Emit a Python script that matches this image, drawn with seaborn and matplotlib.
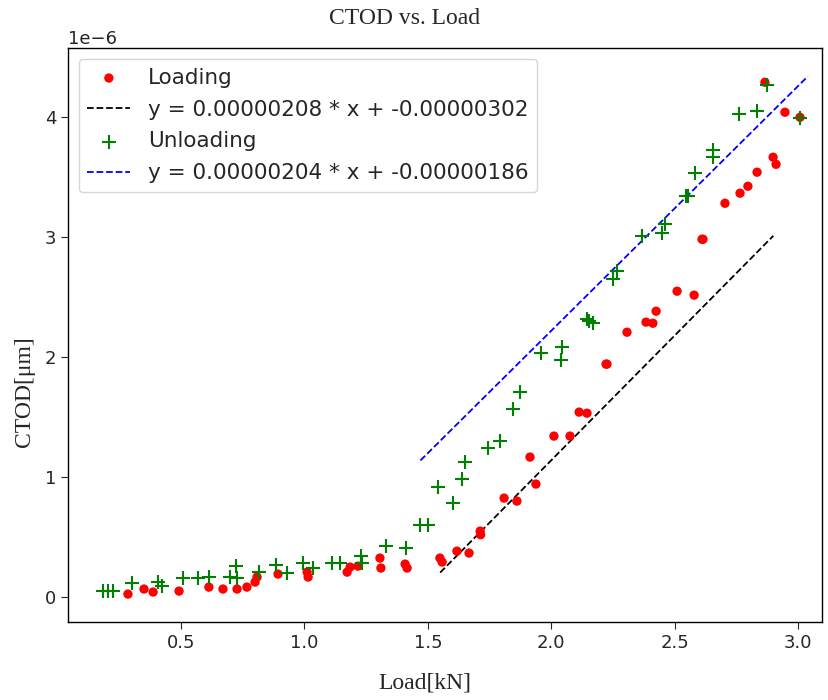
import numpy as np
import pandas as pd
import matplotlib
matplotlib.use("Agg")
import matplotlib.pyplot as plt
import seaborn as sns

# ---- data (CTOD values in units of 1e-6) ----
load_loading = [0.285, 0.350, 0.387, 0.492, 0.613, 0.670, 0.727, 0.767, 0.800, 0.808,
                0.893, 1.011, 1.015, 1.173, 1.185, 1.217, 1.306, 1.310, 1.408, 1.416,
                1.549, 1.558, 1.618, 1.667, 1.712, 1.714, 1.809, 1.861, 1.914, 1.938,
                2.011, 2.076, 2.113, 2.145, 2.222, 2.226, 2.307, 2.384, 2.412, 2.425,
                2.510, 2.579, 2.611, 2.615, 2.704, 2.765, 2.797, 2.834, 2.899, 2.911,
                2.866, 2.947, 3.008]
ctod_loading = [0.025, 0.067, 0.042, 0.050, 0.083, 0.067, 0.067, 0.083, 0.125, 0.167,
                0.192, 0.208, 0.167, 0.208, 0.250, 0.258, 0.325, 0.242, 0.275, 0.242,
                0.325, 0.292, 0.383, 0.367, 0.550, 0.520, 0.825, 0.800, 1.167, 0.942,
                1.342, 1.342, 1.542, 1.533, 1.942, 1.942, 2.208, 2.292, 2.283, 2.383,
                2.550, 2.517, 2.983, 2.983, 3.283, 3.367, 3.425, 3.542, 3.667, 3.608,
                4.292, 4.042, 4.000]

load_unloading = [0.184, 0.204, 0.224, 0.301, 0.407, 0.423, 0.508, 0.569, 0.613, 0.699,
                  0.723, 0.727, 0.816, 0.885, 0.930, 0.994, 1.035, 1.112, 1.144, 1.229,
                  1.233, 1.331, 1.412, 1.468, 1.501, 1.541, 1.602, 1.639, 1.651, 1.744,
                  1.793, 1.845, 1.874, 1.959, 2.040, 2.044, 2.145, 2.153, 2.169, 2.250,
                  2.267, 2.368, 2.449, 2.461, 2.546, 2.554, 2.583, 2.656, 2.656, 2.761,
                  2.834, 2.874, 3.008]
ctod_unloading = [0.050, 0.050, 0.050, 0.117, 0.125, 0.092, 0.158, 0.158, 0.167, 0.167,
                  0.258, 0.158, 0.208, 0.267, 0.200, 0.283, 0.242, 0.283, 0.283, 0.342,
                  0.283, 0.425, 0.408, 0.600, 0.600, 0.917, 0.783, 0.983, 1.125, 1.242,
                  1.300, 1.567, 1.708, 2.033, 1.975, 2.083, 2.317, 2.300, 2.283, 2.650,
                  2.717, 3.008, 3.033, 3.108, 3.342, 3.342, 3.533, 3.725, 3.667, 4.025,
                  4.050, 4.267, 3.990]

# linear fits (from legend)
fit_loading_slope, fit_loading_intercept = 0.00000208, -0.00000302
fit_loading_x = [1.55, 2.90]
fit_unloading_slope, fit_unloading_intercept = 0.00000204, -0.00000186
fit_unloading_x = [1.47, 3.04]

x_ticks = [0.5, 1.0, 1.5, 2.0, 2.5, 3.0]
y_ticks = [0, 1e-6, 2e-6, 3e-6, 4e-6]

# ---- build frames ----
scale = 1e-6
df_load = pd.DataFrame({"x": load_loading, "y": np.array(ctod_loading) * scale})
df_unload = pd.DataFrame({"x": load_unloading, "y": np.array(ctod_unloading) * scale})
fx1 = np.array(fit_loading_x)
df_fit1 = pd.DataFrame({"x": fx1, "y": fit_loading_slope * fx1 + fit_loading_intercept})
fx2 = np.array(fit_unloading_x)
df_fit2 = pd.DataFrame({"x": fx2, "y": fit_unloading_slope * fx2 + fit_unloading_intercept})

sns.set_style("ticks")
plt.rcParams["font.family"] = ["DejaVu Sans"]
plt.rcParams["font.size"] = 13

fig = plt.figure(figsize=(8.29, 7.0), dpi=100)
ax = fig.add_axes([0.082, 0.1114, 0.9095, 0.8196])

sns.scatterplot(data=df_load, x="x", y="y", ax=ax, color="red", marker="o",
                s=45, edgecolor="none", label="Loading", zorder=3)
sns.lineplot(data=df_fit1, x="x", y="y", ax=ax, color="black", linestyle="--",
             linewidth=1.3, label="y = 0.00000208 * x + -0.00000302")
sns.scatterplot(data=df_unload, x="x", y="y", ax=ax, color="green", marker="+",
                s=110, linewidth=1.5, label="Unloading", zorder=4)
sns.lineplot(data=df_fit2, x="x", y="y", ax=ax, color="blue", linestyle="--",
             linewidth=1.3, label="y = 0.00000204 * x + -0.00000186")

ax.set_xlim(0.042, 3.097)
ax.set_ylim(-0.208e-6, 4.575e-6)
ax.set_xticks(x_ticks)
ax.set_yticks(y_ticks)
ax.tick_params(labelsize=13, direction="out", length=5)
ax.yaxis.get_offset_text().set_fontsize(13)

serif = "Liberation Serif"
ax.set_title("CTOD vs. Load", fontfamily=serif, fontsize=17,
             x=0.447, y=1.052, va="center", pad=0)
ax.set_xlabel("Load[kN]", fontfamily=serif, fontsize=17, va="center")
ax.xaxis.set_label_coords(0.4735, -0.106)
ax.set_ylabel("CTOD[μm]", fontfamily=serif, fontsize=17, va="center")
ax.yaxis.set_label_coords(-0.058, 0.4024)

for sp in ax.spines.values():
    sp.set_visible(True)
    sp.set_color("black")
    sp.set_linewidth(1.0)

leg = ax.legend(loc="upper left", fontsize=15.5, frameon=True, labelspacing=0.55)

fig.savefig("out.png", dpi=100)
